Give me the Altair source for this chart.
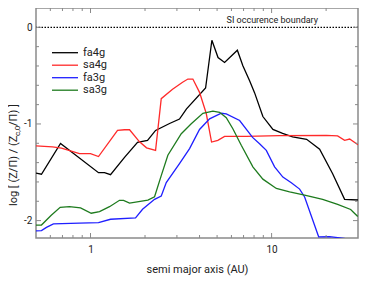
import altair as alt
import pandas as pd

FONT = "Roboto"
series_names = ["fa4g", "sa4g", "fa3g", "sa3g"]
series_colors = ["#000000", "#ff2a2a", "#1f1fff", "#1e7b1e"]

fa4g_x = [0.5, 0.536, 0.683, 1.107, 1.195, 1.290, 1.541, 1.818, 2.065, 2.287, 2.732, 3.10, 3.39, 4.32, 4.68,
          5.06, 5.50, 6.47, 6.94, 7.56, 8.05, 8.95, 10.17, 11.5, 13.06, 15.61, 18.42, 21.7, 25.3, 30.0]
fa4g_y = [-1.509, -1.520, -1.201, -1.504, -1.504, -1.525, -1.345, -1.190, -1.170, -1.067, -0.995, -0.949, -0.843,
          -0.628, -0.134, -0.313, -0.364, -0.237, -0.398, -0.552, -0.676, -0.923, -1.057, -1.098, -1.134, -1.159,
          -1.262, -1.512, -1.780, -1.787]

sa4g_x = [0.5, 0.617, 0.691, 0.869, 1.0, 1.107, 1.41, 1.541, 1.643, 1.865, 2.039, 2.287, 2.458, 2.838, 3.224,
          3.449, 3.674, 4.0, 4.357, 4.66, 5.05, 5.50, 7.25, 11.07, 20.06, 23.15, 25.3, 26.98, 30.0]
sa4g_y = [-1.226, -1.237, -1.249, -1.307, -1.307, -1.337, -1.067, -1.060, -1.060, -1.185, -1.247, -1.273, -0.738,
          -0.640, -0.568, -0.535, -0.535, -0.673, -0.892, -1.187, -1.170, -1.129, -1.129, -1.121, -1.118, -1.123,
          -1.170, -1.156, -1.215]

fa3g_x = [0.5, 0.536, 0.571, 0.624, 0.869, 1.107, 1.290, 1.773, 1.938, 2.258, 2.458, 2.62, 3.10, 3.524, 4.0,
          4.546, 5.276, 5.62, 6.66, 7.85, 8.58, 9.35, 10.39, 11.54, 12.85, 14.28, 15.22, 16.57, 18.19, 20.92,
          26.98, 30.0]
fa3g_y = [-2.106, -2.104, -2.070, -2.034, -2.027, -2.021, -1.986, -1.972, -1.883, -1.780, -1.746, -1.607, -1.410,
          -1.255, -1.057, -0.947, -0.889, -0.895, -0.964, -1.139, -1.204, -1.273, -1.444, -1.550, -1.609, -1.674,
          -1.756, -1.952, -2.168, -2.165, -2.192, -2.21]

sa3g_x = [0.5, 0.536, 0.605, 0.680, 0.765, 0.881, 1.009, 1.121, 1.273, 1.446, 1.522, 1.643, 2.073, 2.258, 2.458,
          2.674, 3.171, 3.60, 4.173, 4.74, 5.16, 5.62, 6.11, 6.80, 7.88, 8.95, 10.62, 12.57, 15.22, 19.13, 23.15,
          27.33, 29.9]
sa3g_y = [-2.046, -2.046, -1.947, -1.862, -1.856, -1.869, -1.924, -1.907, -1.856, -1.790, -1.790, -1.818, -1.787,
          -1.753, -1.535, -1.324, -1.101, -0.998, -0.889, -0.868, -0.879, -0.936, -1.049, -1.221, -1.444, -1.571,
          -1.667, -1.702, -1.736, -1.780, -1.833, -1.885, -1.957]

x_tick_major = [1, 10]
x_tick_minor = [0.6, 0.7, 0.8, 0.9, 2, 3, 4, 5, 6, 7, 8, 9, 20, 30]
y_tick_major = [-2, -1, 0]
y_tick_minor = [-1.8, -1.6, -1.4, -1.2, -0.8, -0.6, -0.4, -0.2, 0.2]

boundary_label = "SI occurence boundary"
x_title = "semi major axis (AU)"

W, H = 322, 230
GRAY = "#8a8a8a"

rows = []
for name, xs, ys in [("fa4g", fa4g_x, fa4g_y), ("sa4g", sa4g_x, sa4g_y),
                     ("fa3g", fa3g_x, fa3g_y), ("sa3g", sa3g_x, sa3g_y)]:
    for i, (a, b) in enumerate(zip(xs, ys)):
        rows.append({"name": name, "x": a, "y": b, "i": i})
df = pd.DataFrame(rows)

xscale = alt.Scale(type="log", domain=[0.5, 30], nice=False)
yscale = alt.Scale(domain=[-2.18, 0.2], nice=False, zero=False)
cscale = alt.Scale(domain=series_names, range=series_colors)

x_axis = alt.Axis(values=x_tick_major, format="d", ticks=False, tickSize=0, domain=False, grid=False,
                  labelFont=FONT, labelFontSize=10, labelColor="#222", labelPadding=6,
                  title=x_title, titleFont=FONT, titleFontSize=11, titleFontWeight="normal",
                  titleColor="#222", titlePadding=9)
y_axis = alt.Axis(values=y_tick_major, ticks=False, tickSize=0, domain=False, grid=False,
                  labelFont=FONT, labelFontSize=10, labelColor="#222", labelPadding=4,
                  labelExpr="replace(datum.label, '\u2212', '-')", title=None)

lines = alt.Chart(df).mark_line(strokeWidth=1.3, clip=True).encode(
    x=alt.X("x:Q", scale=xscale, axis=x_axis, title=x_title),
    y=alt.Y("y:Q", scale=yscale, axis=y_axis),
    color=alt.Color("name:N", scale=cscale, legend=None),
    detail="name:N",
    order="i:Q",
)

zero_rule = alt.Chart(pd.DataFrame({"y": [0]})).mark_rule(
    color="#000", strokeWidth=1.2, strokeDash=[1.5, 1.5]).encode(
    y=alt.Y("y:Q", scale=yscale, axis=y_axis))

si_text = alt.Chart(pd.DataFrame({"y": [0], "t": [boundary_label]})).mark_text(
    align="right", baseline="alphabetic", dy=-4, font=FONT, fontSize=9, color="#222").encode(
    x=alt.value(282), y=alt.Y("y:Q", scale=yscale, axis=y_axis), text="t:N")

leg_df = pd.DataFrame({"name": series_names, "i": list(range(len(series_names)))})
leg_base = alt.Chart(leg_df).transform_calculate(ly="44.7 + 12.5 * datum.i")
leg_lines = leg_base.mark_rule(strokeWidth=1.3).encode(
    x=alt.value(16), x2=alt.value(42), y=alt.Y("ly:Q", scale=None),
    color=alt.Color("name:N", scale=cscale, legend=None))
leg_text = leg_base.mark_text(align="left", baseline="middle", font=FONT, fontSize=11, color="#222").encode(
    x=alt.value(47), y=alt.Y("ly:Q", scale=None), text="name:N")

xt = pd.DataFrame({"x": x_tick_major + x_tick_minor,
                   "len": [5] * len(x_tick_major) + [3] * len(x_tick_minor)})
yt = pd.DataFrame({"y": y_tick_major + y_tick_minor,
                   "len": [5] * len(y_tick_major) + [3] * len(y_tick_minor)})

xt_base = alt.Chart(xt).transform_filter("datum.x > 0.5 && datum.x < 30")
bottom_ticks = xt_base.transform_calculate(a=f"{H}", b=f"{H} - datum.len").mark_rule(
    color=GRAY, strokeWidth=1).encode(
    x=alt.X("x:Q", scale=xscale, axis=x_axis, title=x_title), y=alt.Y("a:Q", scale=None), y2="b:Q")
top_ticks = xt_base.transform_calculate(a="0", b="datum.len").mark_rule(
    color=GRAY, strokeWidth=1).encode(
    x=alt.X("x:Q", scale=xscale, axis=x_axis, title=x_title), y=alt.Y("a:Q", scale=None), y2="b:Q")
yt_base = alt.Chart(yt).transform_filter("datum.y > -2.18 && datum.y < 0.2")
left_ticks = yt_base.transform_calculate(a="0", b="datum.len").mark_rule(
    color=GRAY, strokeWidth=1).encode(
    y=alt.Y("y:Q", scale=yscale, axis=y_axis), x=alt.X("a:Q", scale=None), x2="b:Q")
right_ticks = yt_base.transform_calculate(a=f"{W}", b=f"{W} - datum.len").mark_rule(
    color=GRAY, strokeWidth=1).encode(
    y=alt.Y("y:Q", scale=yscale, axis=y_axis), x=alt.X("a:Q", scale=None), x2="b:Q")

one = pd.DataFrame({"k": [0]})
title_a = alt.Chart(one).mark_text(text="log [ (Z/\u03a0) / (Z", angle=270, align="left", baseline="alphabetic",
                                   font=FONT, fontSize=11, color="#222").encode(x=alt.value(-19), y=alt.value(198))
title_b = alt.Chart(one).mark_text(text="c,0", angle=270, align="left", baseline="alphabetic",
                                   font=FONT, fontSize=8, color="#222").encode(x=alt.value(-16.5), y=alt.value(128))
title_c = alt.Chart(one).mark_text(text="/\u03a0) ]", angle=270, align="left", baseline="alphabetic",
                                   font=FONT, fontSize=11, color="#222").encode(x=alt.value(-19), y=alt.value(118))

chart = alt.layer(
    lines, zero_rule, si_text, leg_lines, leg_text,
    bottom_ticks, top_ticks, left_ticks, right_ticks,
    title_a, title_b, title_c,
).properties(
    width=W, height=H,
    padding={"left": 28, "top": 0, "right": 8, "bottom": 44},
    autosize="none",
    background="white",
).configure_view(stroke=GRAY, strokeWidth=1.5)

chart.save("out.html", embed_options={"renderer": "svg", "actions": False})
